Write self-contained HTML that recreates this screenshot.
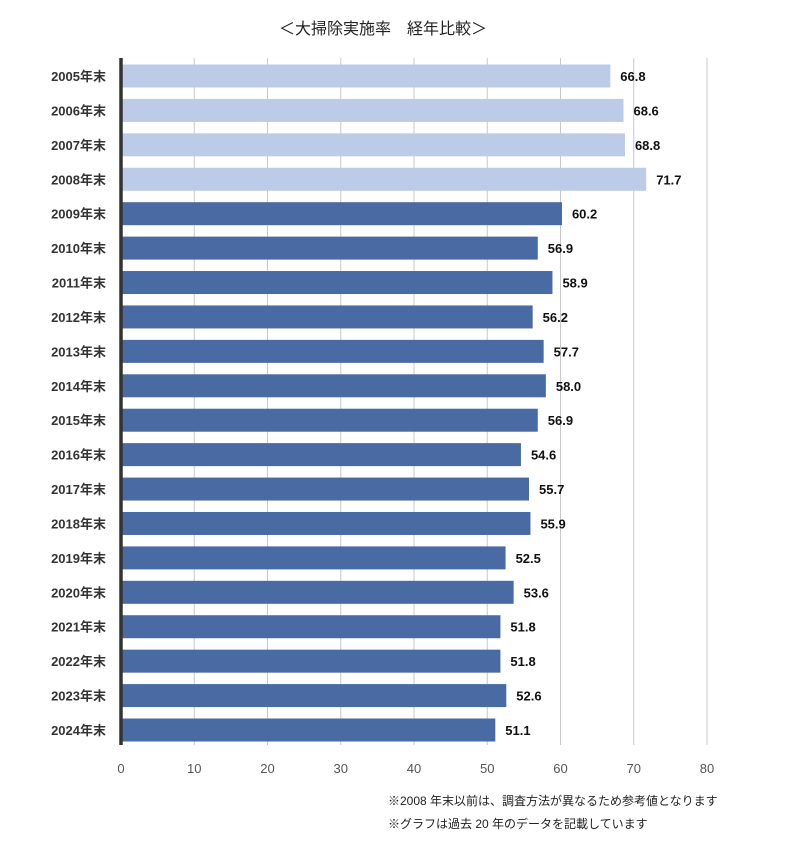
<!DOCTYPE html>
<html><head><meta charset="utf-8"><style>
body{margin:0;background:#fff;width:800px;height:848px;overflow:hidden;font-family:"Liberation Sans","Noto Sans CJK JP",sans-serif}
</style></head><body>
<svg id="chart" width="800" height="848" xmlns="http://www.w3.org/2000/svg">
<text x="383" y="34" text-anchor="middle" font-size="16" fill="#222" font-family="Liberation Sans,Noto Sans CJK JP,sans-serif">＜大掃除実施率　経年比較＞</text>
<g id="grid"></g><g id="bars"></g><g id="labels"></g>
<line x1="121" y1="58" x2="121" y2="745" stroke="#333" stroke-width="3.5"/>
<text x="388" y="805" font-size="12" fill="#222">※2008 年末以前は、調査方法が異なるため参考値となります</text>
<text x="388" y="828" font-size="12" fill="#222">※グラフは過去 20 年のデータを記載しています</text>
</svg>
<script>
const categories=["2005年末","2006年末","2007年末","2008年末","2009年末","2010年末","2011年末","2012年末","2013年末","2014年末","2015年末","2016年末","2017年末","2018年末","2019年末","2020年末","2021年末","2022年末","2023年末","2024年末"];
const values=[66.8,68.6,68.8,71.7,60.2,56.9,58.9,56.2,57.7,58.0,56.9,54.6,55.7,55.9,52.5,53.6,51.8,51.8,52.6,51.1];
const referenceCount=4;
const ticks=[0,10,20,30,40,50,60,70,80];
const NS="http://www.w3.org/2000/svg";
const x=v=>121+v*(707-121)/80;
const yc=i=>76+i*(730-76)/19;
function mk(t,a,p){const e=document.createElementNS(NS,t);for(const k in a)e.setAttribute(k,a[k]);p.appendChild(e);return e;}
const g=document.getElementById('grid'),b=document.getElementById('bars'),l=document.getElementById('labels');
ticks.forEach(t=>{
 if(t>0){const ln=mk('line',{x1:x(t),x2:x(t),y1:58,y2:745,stroke:'#c8c8c8','stroke-width':1},g);
 
 }
 const tx=mk('text',{x:x(t),y:773,'text-anchor':'middle','font-size':13,fill:'#555'},g);tx.textContent=t;
 
 
});
categories.forEach((c,i)=>{
 const r=mk('rect',{x:121,y:yc(i)-11.5,width:x(values[i])-121,height:23,fill:i<referenceCount?'#bccbe8':'#4a6aa3'},b);
 
 
 const cl=mk('text',{x:106,y:yc(i)+5,'text-anchor':'end','font-size':13,'font-weight':'bold',fill:'#333'},l);cl.textContent=c;
 
 
 const vl=mk('text',{x:x(values[i])+10,y:yc(i)+5,'font-size':13,'font-weight':'bold',fill:'#111'},l);vl.textContent=values[i].toFixed(1);
 
 
});
</script>
</body></html>
